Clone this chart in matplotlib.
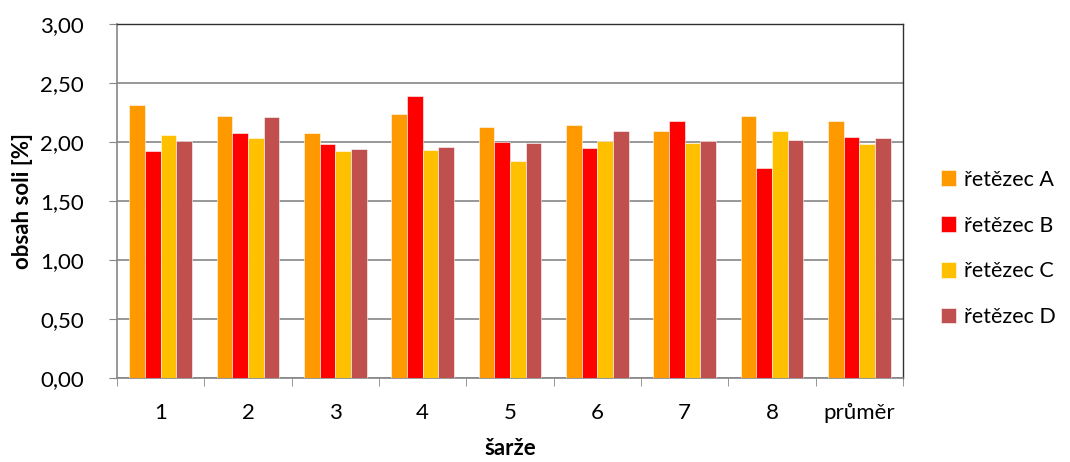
import numpy as np
import matplotlib.pyplot as plt
from matplotlib.ticker import FuncFormatter

plt.rcParams['font.family'] = ['Lato', 'DejaVu Sans']

kategorie = ['1', '2', '3', '4', '5', '6', '7', '8', 'průměr']
retezec_a = [2.31, 2.22, 2.08, 2.24, 2.13, 2.14, 2.09, 2.22, 2.18]
retezec_b = [1.92, 2.08, 1.98, 2.39, 2.00, 1.95, 2.18, 1.78, 2.04]
retezec_c = [2.06, 2.03, 1.92, 1.93, 1.84, 2.01, 1.99, 2.09, 1.98]
retezec_d = [2.01, 2.21, 1.94, 1.96, 1.99, 2.09, 2.01, 2.02, 2.03]
nazvy = ['řetězec A', 'řetězec B', 'řetězec C', 'řetězec D']
barvy = ['#FF9900', '#FF0000', '#FFC000', '#C0504D']

fig = plt.figure(figsize=(10.7, 4.62), dpi=100)
ax = fig.add_axes([117 / 1070, 1 - 378 / 462, 786 / 1070, 354 / 462])

x = np.arange(len(kategorie))
sirka = 0.18
serie = [retezec_a, retezec_b, retezec_c, retezec_d]
for i, (hodnoty, nazev, barva) in enumerate(zip(serie, nazvy, barvy)):
    ax.bar(x + (i - 1.5) * sirka, hodnoty, sirka, color=barva, label=nazev,
           edgecolor='white', linewidth=0.4, zorder=3)

ax.set_xlim(-0.5, len(kategorie) - 0.5)
ax.set_ylim(0, 3)
ax.set_yticks(np.arange(0, 3.01, 0.5))
ax.yaxis.set_major_formatter(FuncFormatter(lambda v, p: f'{v:.2f}'.replace('.', ',')))
ax.set_xticks(x)
ax.set_xticklabels(kategorie)
# Excel-style tick marks between the categories
ax.set_xticks(np.arange(-0.5, len(kategorie)), minor=True)
ax.tick_params(axis='x', which='major', length=0, pad=18, labelsize=16)
ax.tick_params(axis='x', which='minor', length=6, color='#868686', direction='out')
ax.tick_params(axis='y', length=6, color='#868686', direction='out', labelsize=16, pad=18)

ax.grid(axis='y', color='#868686', linewidth=1.2, zorder=0)
ax.set_axisbelow(True)
for s in ['left', 'bottom']:
    ax.spines[s].set_color('#868686')
    ax.spines[s].set_linewidth(1.2)
for s in ['top', 'right']:
    ax.spines[s].set_color('#303030')
    ax.spines[s].set_linewidth(1.0)

ax.set_ylabel('obsah soli [%]', fontsize=16, fontweight='bold', labelpad=5)
ax.set_xlabel('šarže', fontsize=16, fontweight='bold', labelpad=11)

ax.legend(loc='center left', bbox_to_anchor=(1.0235, 0.366), frameon=False,
          fontsize=15.5, handlelength=0.72, handleheight=0.72, handletextpad=0.35,
          labelspacing=1.2)

fig.savefig('out.png', dpi=100)
